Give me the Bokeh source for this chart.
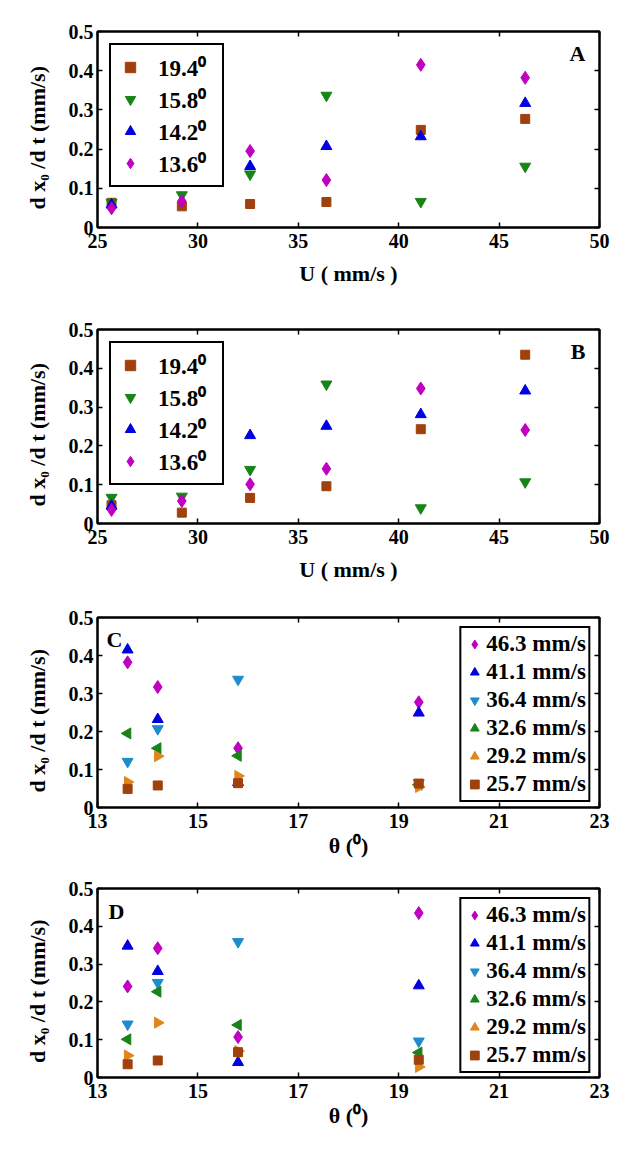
import numpy as np
from bokeh.plotting import figure
from bokeh.models import (LinearAxis, FixedTicker, CustomJSTickFormatter, Label,
                          Range1d)
from bokeh.layouts import column
from bokeh.embed import file_html
from bokeh.resources import INLINE

# ---------------- data ----------------
speeds = [25.7, 29.2, 32.6, 36.4, 41.1, 46.3]          # U (mm/s)
angles = [19.4, 15.8, 14.2, 13.6]                      # theta (deg)
angle_labels = ["19.4\u2070", "15.8\u2070", "14.2\u2070", "13.6\u2070"]

# set 1 (panels A and C): dx0/dt for each angle, over speeds
a_19_4 = [0.063, 0.054, 0.060, 0.065, 0.249, 0.277]
a_15_8 = [0.064, 0.083, 0.136, 0.337, 0.066, 0.156]
a_14_2 = [0.058, 0.135, 0.156, 0.207, 0.232, 0.317]
a_13_6 = [0.049, 0.067, 0.195, 0.121, 0.415, 0.382]

# set 2 (panels B and D)
b_19_4 = [0.047, 0.028, 0.066, 0.096, 0.243, 0.435]
b_15_8 = [0.067, 0.070, 0.139, 0.359, 0.040, 0.107]
b_14_2 = [0.045, 0.145, 0.227, 0.251, 0.281, 0.342]
b_13_6 = [0.035, 0.058, 0.101, 0.141, 0.348, 0.241]

u_ticks = [25, 30, 35, 40, 45, 50]
theta_ticks = [13, 15, 17, 19, 21, 23]
y_ticks = [0, 0.1, 0.2, 0.3, 0.4, 0.5]

# ---------------- styles ----------------
FONT = "Liberation Serif"
BROWN = "#A0410D"
GREEN = "#178417"
BLUE = "#0000E0"
MAGENTA = "#C000C0"
CYAN = "#1E8CCB"
ORANGE = "#E0861C"

angle_styles = [  # for 19.4, 15.8, 14.2, 13.6
    dict(marker="square", color=BROWN, size=9, angle=0),
    dict(marker="inverted_triangle", color=GREEN, size=11, angle=0),
    dict(marker="triangle", color=BLUE, size=11, angle=0),
    dict(marker="diamond", color=MAGENTA, size=13, angle=0),
]
speed_styles = {  # legend order in panels C / D
    46.3: dict(marker="diamond", color=MAGENTA, size=13, angle=0),
    41.1: dict(marker="triangle", color=BLUE, size=11, angle=0),
    36.4: dict(marker="inverted_triangle", color=CYAN, size=11, angle=0),
    32.6: dict(marker="triangle", color=GREEN, size=11, angle=np.pi / 2),
    29.2: dict(marker="triangle", color=ORANGE, size=11, angle=-np.pi / 2),
    25.7: dict(marker="square", color=BROWN, size=9, angle=0),
}

YLABEL = "d x\u2080 /d t (mm/s)" + "\u00a0" * 3
LEFT = 97
FRAME_W = 502
RIGHT = 22


def make_fig(height, top, frame_h, xr, xticks, xlabel, xlabel_standoff):
    bottom = height - top - frame_h
    p = figure(width=LEFT + FRAME_W + RIGHT, height=height,
               x_range=Range1d(*xr), y_range=Range1d(0, 0.5),
               output_backend="svg", toolbar_location=None,
               min_border_left=LEFT, min_border_right=RIGHT,
               min_border_top=top, min_border_bottom=bottom)
    p.xgrid.visible = False
    p.ygrid.visible = False
    p.outline_line_color = "black"
    p.outline_line_alpha = 1
    p.outline_line_width = 2
    p.background_fill_color = "white"
    p.border_fill_color = "white"

    yfmt = CustomJSTickFormatter(code="return tick == 0 ? '0' : tick.toFixed(1);")
    blank = "return '';"

    for ax, ticks in ((p.xaxis[0], xticks), (p.yaxis[0], y_ticks)):
        ax.ticker = FixedTicker(ticks=ticks)
        ax.minor_tick_line_color = None
        ax.major_tick_in = 5
        ax.major_tick_out = 0
        ax.major_tick_line_width = 1.5
        ax.axis_line_width = 2
        ax.major_label_text_font = FONT
        ax.major_label_text_font_style = "bold"
        ax.major_label_text_font_size = "20px"
        ax.major_label_text_color = "black"
        ax.axis_label_text_font = FONT
        ax.axis_label_text_font_style = "bold"
        ax.axis_label_text_font_size = "22px"
        ax.axis_label_text_color = "black"
    p.yaxis[0].formatter = yfmt
    p.yaxis[0].major_label_standoff = 4
    p.yaxis[0].axis_label = YLABEL
    p.yaxis[0].axis_label_standoff = 16
    p.xaxis[0].major_label_standoff = 6
    p.xaxis[0].axis_label = xlabel
    p.xaxis[0].axis_label_standoff = xlabel_standoff

    for side, ticks in (("above", xticks), ("right", y_ticks)):
        ax = LinearAxis(ticker=FixedTicker(ticks=ticks),
                        formatter=CustomJSTickFormatter(code=blank))
        ax.minor_tick_line_color = None
        ax.major_tick_in = 5
        ax.major_tick_out = 0
        ax.major_tick_line_width = 1.5
        ax.axis_line_width = 2
        ax.major_label_text_font_size = "1px"
        ax.major_label_standoff = 0
        p.add_layout(ax, side)
    return p


def style_legend(p, loc, margin, padding, gw, gh, standoff, label_width, fs):
    lg = p.legend[0]
    lg.location = loc
    lg.margin = margin
    lg.padding = padding
    lg.spacing = 0
    lg.glyph_width = gw
    lg.glyph_height = gh
    lg.label_height = gh
    lg.label_standoff = standoff
    lg.label_width = label_width
    lg.border_line_color = "black"
    lg.border_line_alpha = 1
    lg.border_line_width = 2
    lg.background_fill_color = "white"
    lg.background_fill_alpha = 1
    lg.label_text_font = FONT
    lg.label_text_font_style = "bold"
    lg.label_text_font_size = fs
    lg.label_text_color = "black"


def letter(p, x, y, txt, align):
    p.add_layout(Label(x=x, y=y, text=txt, text_align=align,
                       text_baseline="top", text_font=FONT,
                       text_font_style="bold", text_font_size="22px",
                       text_color="black"))


def speed_panel(p, series):
    for label, vals in zip(angle_labels, series):
        st = angle_styles[angle_labels.index(label)]
        p.scatter(speeds, vals, marker=st["marker"], size=st["size"],
                  fill_color=st["color"], line_color=st["color"],
                  angle=st["angle"], legend_label=label)


def angle_panel(p, series):
    table = np.array(series)  # rows: angles, cols: speeds
    for j in range(len(speeds) - 1, -1, -1):
        s = speeds[j]
        st = speed_styles[s]
        p.scatter(angles, list(table[:, j]), marker=st["marker"],
                  size=st["size"], fill_color=st["color"],
                  line_color=st["color"], angle=st["angle"],
                  legend_label=f"{s} mm/s")


set1 = [a_19_4, a_15_8, a_14_2, a_13_6]
set2 = [b_19_4, b_15_8, b_14_2, b_13_6]

pA = make_fig(298, 31, 196, (25, 50), u_ticks, "U ( mm/s )", 10)
speed_panel(pA, set1)
style_legend(pA, "top_left", 12, 6, 26, 26, 15, 58, "23px")
letter(pA, 49.3, 0.476, "A", "right")

pB = make_fig(290, 31, 194, (25, 50), u_ticks, "U ( mm/s )", 10)
speed_panel(pB, set2)
style_legend(pB, "top_left", 12, 6, 26, 26, 15, 58, "23px")
letter(pB, 49.3, 0.476, "B", "right")

pC = make_fig(285, 29, 190, (13, 23), theta_ticks, "\u03b8 (\u2070)", 2)
angle_panel(pC, set1)
style_legend(pC, "top_right", 9, 2, 22, 28, 1, 20, "23px")
letter(pC, 13.18, 0.474, "C", "left")

pD = make_fig(286, 15, 189, (13, 23), theta_ticks, "\u03b8 (\u2070)", 2)
angle_panel(pD, set2)
style_legend(pD, "top_right", 9, 2, 22, 28, 1, 20, "23px")
letter(pD, 13.22, 0.471, "D", "left")

layout = column(pA, pB, pC, pD)
open("out.html", "w").write(file_html(layout, INLINE))
